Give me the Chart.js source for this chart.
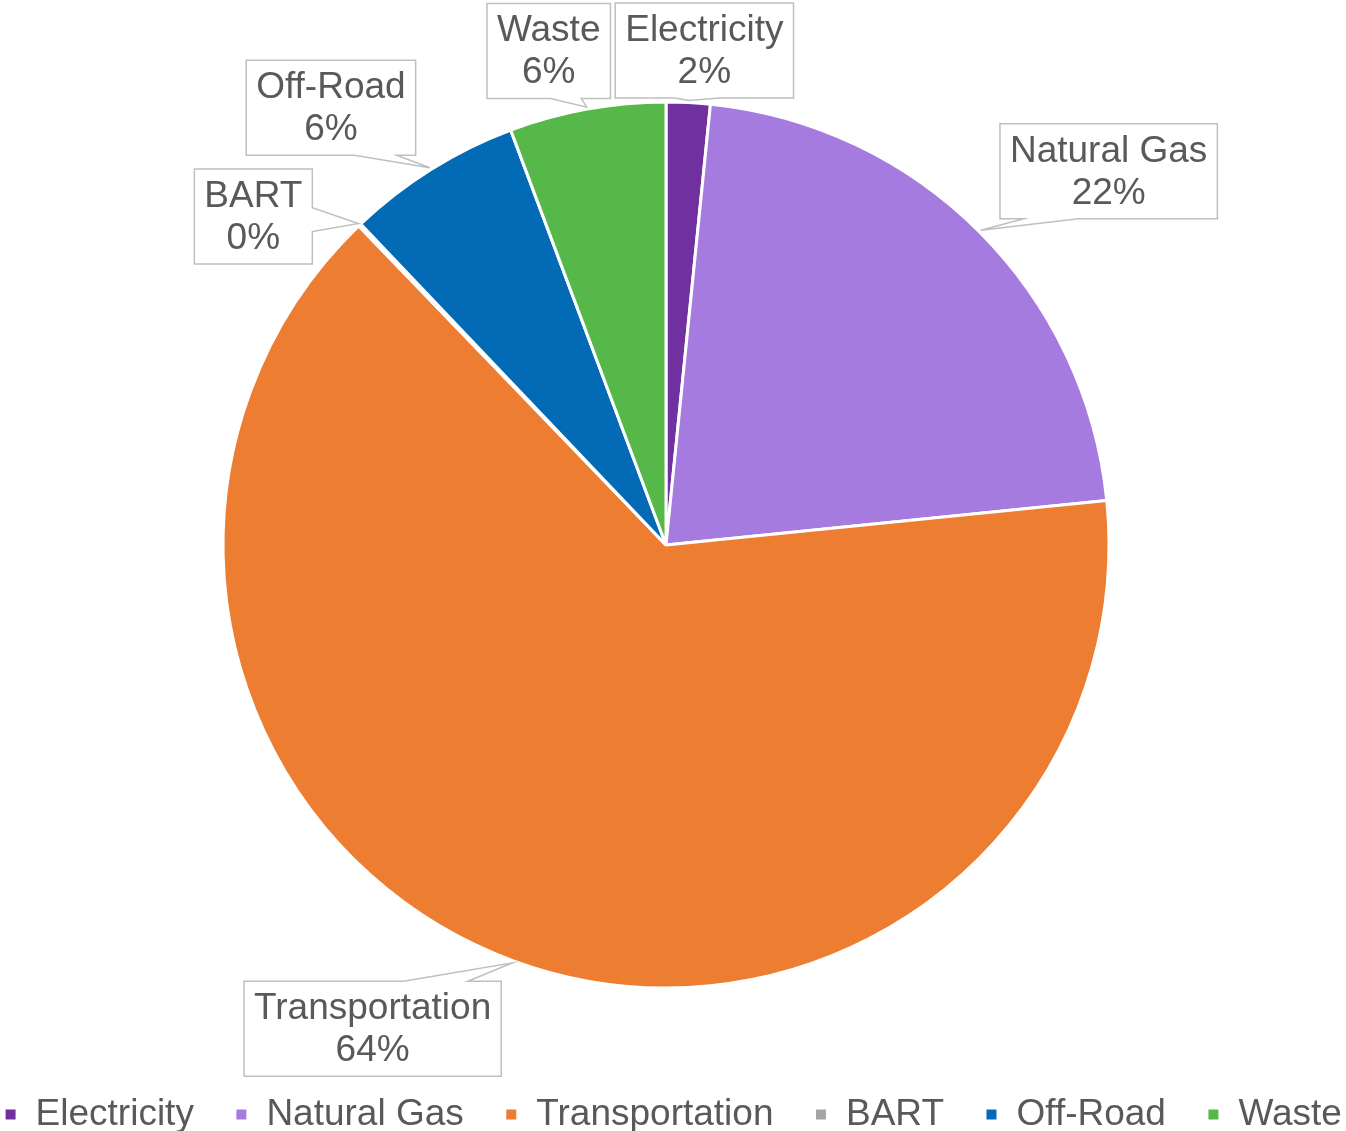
<!DOCTYPE html>
<html>
<head>
<meta charset="utf-8">
<script src="https://cdn.jsdelivr.net/npm/chart.js@4/dist/chart.umd.min.js"></script>
<style>
  html, body { margin: 0; padding: 0; background: #fff; }
  #wrap { width: 1346px; height: 1131px; position: relative; }
</style>
</head>
<body>
<div id="wrap"><canvas id="pieChart"></canvas></div>
<script>
const categories = ['Electricity', 'Natural Gas', 'Transportation', 'BART', 'Off-Road', 'Waste'];
const shares = [1.6, 21.8, 64.4, 0.1, 6.4, 5.7];

const sliceColors = ['#7030A0', '#A67BE0', '#ED7D31', '#A5A5A5', '#036BB5', '#56B848'];
// box centre offset from the slice's outer mid point
const calloutOffsets = [[16, -50], [128, -59], [-140, 66], [-105, -7], [-99, -60], [-38, -56]];
const FONT = '"Liberation Sans", Arial, sans-serif';
const TEXT_COLOR = '#595959';

// the pie sits a little left of the canvas centre in the original
const shiftPie = {
    id: 'shiftPie',
    afterLayout(chart) {
        chart.chartArea.left -= 7;
        chart.chartArea.right -= 7;
    }
};

const calloutPlugin = {
    id: 'callouts',
    afterDatasetsDraw(chart) {
        const ctx = chart.ctx;
        const meta = chart.getDatasetMeta(0);
        const total = shares.reduce((a, b) => a + b, 0);
        ctx.save();
        ctx.font = '37px ' + FONT;
        meta.data.forEach((arc, i) => {
            const mid = (arc.startAngle + arc.endAngle) / 2;
            const tipX = arc.x + Math.cos(mid) * (arc.outerRadius + 2);
            const tipY = arc.y + Math.sin(mid) * (arc.outerRadius + 2);
            const pct = Math.round(shares[i] / total * 100) + '%';
            const w = Math.max(ctx.measureText(categories[i]).width, ctx.measureText(pct).width) + 20;
            const h = 95;
            const cx = tipX + calloutOffsets[i][0];
            const cy = tipY + calloutOffsets[i][1];
            const left = cx - w / 2, right = cx + w / 2, top = cy - h / 2, bottom = cy + h / 2;

            let edgeIdx;
            if (tipY > bottom) edgeIdx = 2;
            else if (tipY < top) edgeIdx = 0;
            else if (tipX > right) edgeIdx = 1;
            else edgeIdx = 3;

            const edges = [
                [[left, top], [right, top]],
                [[right, top], [right, bottom]],
                [[right, bottom], [left, bottom]],
                [[left, bottom], [left, top]]
            ];

            ctx.beginPath();
            ctx.moveTo(left, top);
            edges.forEach(([a, b], k) => {
                if (k === edgeIdx) {
                    const horiz = a[1] === b[1];
                    const ax = horiz ? 0 : 1;
                    const lo = Math.min(a[ax], b[ax]), hi = Math.max(a[ax], b[ax]);
                    const len = hi - lo;
                    const bw = Math.max(len * 0.25, 12);
                    const c0 = horiz ? cx + 0.45 * (tipX - cx) : cy + 0.45 * (tipY - cy);
                    const c = Math.min(Math.max(c0, lo + bw / 2 + 4), hi - bw / 2 - 4);
                    const dir = Math.sign(b[ax] - a[ax]);
                    const p1 = c - dir * bw / 2, p2 = c + dir * bw / 2;
                    if (horiz) {
                        ctx.lineTo(p1, a[1]);
                        ctx.lineTo(tipX, tipY);
                        ctx.lineTo(p2, a[1]);
                    } else {
                        ctx.lineTo(a[0], p1);
                        ctx.lineTo(tipX, tipY);
                        ctx.lineTo(a[0], p2);
                    }
                }
                ctx.lineTo(b[0], b[1]);
            });
            ctx.closePath();
            ctx.fillStyle = '#ffffff';
            ctx.fill();
            ctx.lineWidth = 1.5;
            ctx.strokeStyle = '#BFBFBF';
            ctx.stroke();

            ctx.fillStyle = TEXT_COLOR;
            ctx.textAlign = 'center';
            ctx.textBaseline = 'middle';
            ctx.fillText(categories[i], cx, cy - 20);
            ctx.fillText(pct, cx, cy + 22);
        });
        ctx.restore();
    }
};

window.addEventListener('DOMContentLoaded', () => {
    const ctx = document.getElementById('pieChart').getContext('2d');
    new Chart(ctx, {
        type: 'pie',
        data: {
            labels: categories,
            datasets: [{
                data: shares,
                backgroundColor: sliceColors,
                borderColor: '#ffffff',
                borderWidth: 3,
                radius: 443
            }]
        },
        options: {
            responsive: true,
            maintainAspectRatio: false,
            animation: false,
            layout: { padding: { top: 35, bottom: -12, left: -41, right: -41 } },
            plugins: {
                tooltip: { enabled: false },
                legend: {
                    position: 'bottom',
                    labels: {
                        boxWidth: 13,
                        boxHeight: 13,
                        padding: 41,
                        color: TEXT_COLOR,
                        font: { size: 37, family: FONT }
                    }
                }
            }
        },
        plugins: [shiftPie, calloutPlugin]
    });
});
</script>
</body>
</html>
